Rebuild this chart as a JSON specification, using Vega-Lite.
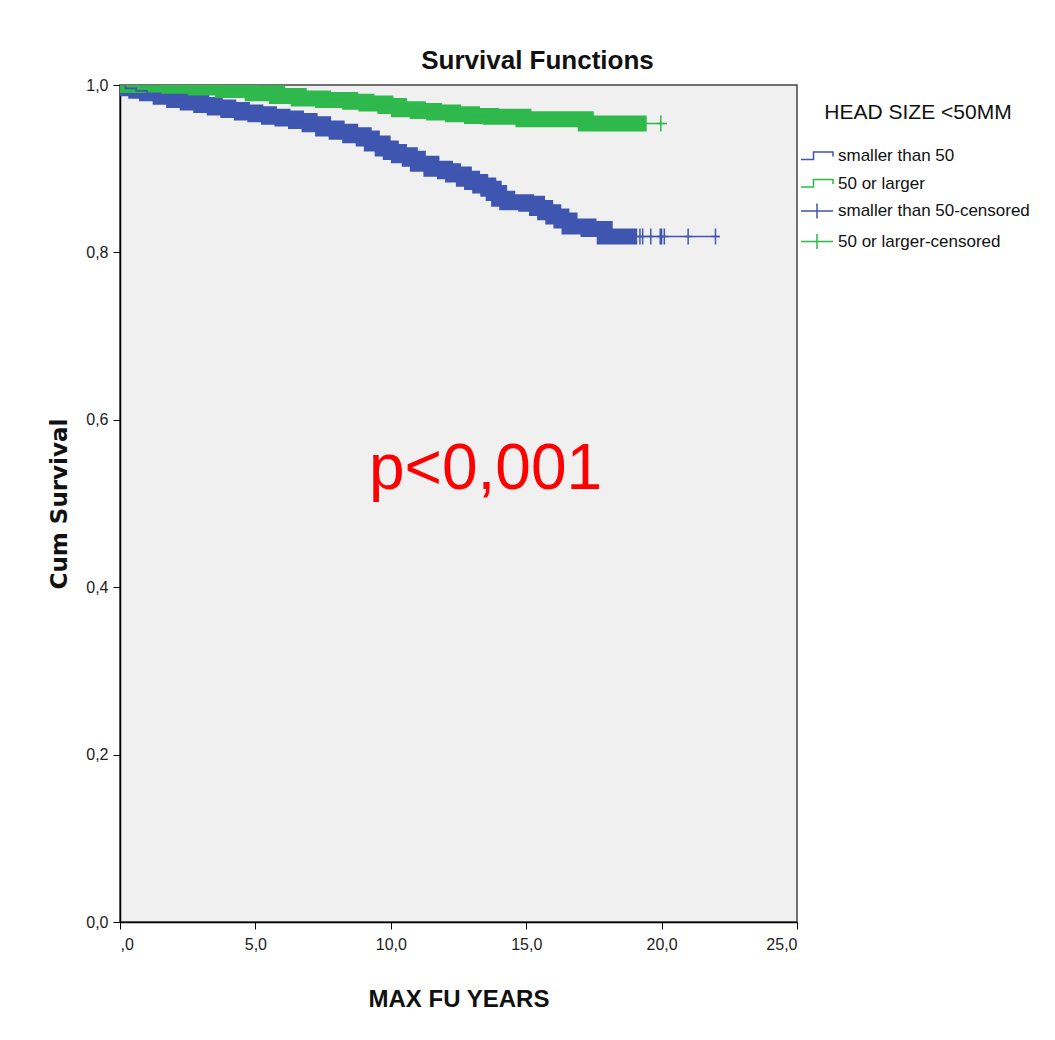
{
  "$schema": "https://vega.github.io/schema/vega-lite/v6.json",
  "width": 677,
  "height": 837,
  "autosize": "none",
  "padding": {"left": 120, "top": 85, "right": 258, "bottom": 118},
  "background": "white",
  "config": {
    "font": "Liberation Sans, sans-serif",
    "view": {"fill": "#F0F0F0", "stroke": "#444444", "strokeWidth": 1.5}
  },
  "title": {
    "text": "Survival Functions",
    "anchor": "middle",
    "dx": 79,
    "offset": 3,
    "fontSize": 26,
    "fontWeight": "bold",
    "font": "Liberation Sans, sans-serif",
    "color": "#111111"
  },
  "datasets": {
    "km": [
      {"series": "smaller than 50", "t": 0.0, "s": 1.0},
      {"series": "smaller than 50", "t": 0.2, "s": 0.996},
      {"series": "smaller than 50", "t": 0.6, "s": 0.993},
      {"series": "smaller than 50", "t": 1.0, "s": 0.99},
      {"series": "smaller than 50", "t": 1.5, "s": 0.986},
      {"series": "smaller than 50", "t": 2.0, "s": 0.982},
      {"series": "smaller than 50", "t": 2.5, "s": 0.979},
      {"series": "smaller than 50", "t": 3.0, "s": 0.976},
      {"series": "smaller than 50", "t": 3.5, "s": 0.973},
      {"series": "smaller than 50", "t": 4.0, "s": 0.97},
      {"series": "smaller than 50", "t": 4.5, "s": 0.967},
      {"series": "smaller than 50", "t": 5.0, "s": 0.965},
      {"series": "smaller than 50", "t": 5.5, "s": 0.962},
      {"series": "smaller than 50", "t": 6.0, "s": 0.96},
      {"series": "smaller than 50", "t": 6.5, "s": 0.957},
      {"series": "smaller than 50", "t": 7.0, "s": 0.953},
      {"series": "smaller than 50", "t": 7.5, "s": 0.948},
      {"series": "smaller than 50", "t": 8.0, "s": 0.944},
      {"series": "smaller than 50", "t": 8.5, "s": 0.94},
      {"series": "smaller than 50", "t": 9.0, "s": 0.936},
      {"series": "smaller than 50", "t": 9.3, "s": 0.93},
      {"series": "smaller than 50", "t": 9.7, "s": 0.924},
      {"series": "smaller than 50", "t": 10.0, "s": 0.92},
      {"series": "smaller than 50", "t": 10.3, "s": 0.916},
      {"series": "smaller than 50", "t": 10.7, "s": 0.912},
      {"series": "smaller than 50", "t": 11.0, "s": 0.906},
      {"series": "smaller than 50", "t": 11.5, "s": 0.9},
      {"series": "smaller than 50", "t": 12.0, "s": 0.897},
      {"series": "smaller than 50", "t": 12.3, "s": 0.893},
      {"series": "smaller than 50", "t": 12.7, "s": 0.888},
      {"series": "smaller than 50", "t": 13.0, "s": 0.884},
      {"series": "smaller than 50", "t": 13.3, "s": 0.88},
      {"series": "smaller than 50", "t": 13.6, "s": 0.876},
      {"series": "smaller than 50", "t": 13.8, "s": 0.871},
      {"series": "smaller than 50", "t": 14.0, "s": 0.864},
      {"series": "smaller than 50", "t": 14.3, "s": 0.86},
      {"series": "smaller than 50", "t": 15.0, "s": 0.858},
      {"series": "smaller than 50", "t": 15.4, "s": 0.853},
      {"series": "smaller than 50", "t": 15.7, "s": 0.848},
      {"series": "smaller than 50", "t": 16.0, "s": 0.843},
      {"series": "smaller than 50", "t": 16.3, "s": 0.838},
      {"series": "smaller than 50", "t": 16.6, "s": 0.831},
      {"series": "smaller than 50", "t": 17.3, "s": 0.828},
      {"series": "smaller than 50", "t": 17.9, "s": 0.819},
      {"series": "smaller than 50", "t": 19.1, "s": 0.819},
      {"series": "smaller than 50", "t": 22.15, "s": 0.819},
      {"series": "50 or larger", "t": 0.0, "s": 1.0},
      {"series": "50 or larger", "t": 1.5, "s": 0.999},
      {"series": "50 or larger", "t": 2.8, "s": 0.997},
      {"series": "50 or larger", "t": 3.8, "s": 0.994},
      {"series": "50 or larger", "t": 4.9, "s": 0.99},
      {"series": "50 or larger", "t": 5.8, "s": 0.987},
      {"series": "50 or larger", "t": 6.6, "s": 0.984},
      {"series": "50 or larger", "t": 7.5, "s": 0.982},
      {"series": "50 or larger", "t": 8.5, "s": 0.98},
      {"series": "50 or larger", "t": 9.1, "s": 0.978},
      {"series": "50 or larger", "t": 9.8, "s": 0.975},
      {"series": "50 or larger", "t": 10.3, "s": 0.971},
      {"series": "50 or larger", "t": 11.0, "s": 0.969},
      {"series": "50 or larger", "t": 11.6, "s": 0.967},
      {"series": "50 or larger", "t": 12.3, "s": 0.965},
      {"series": "50 or larger", "t": 13.0, "s": 0.963},
      {"series": "50 or larger", "t": 13.7, "s": 0.962},
      {"series": "50 or larger", "t": 14.9, "s": 0.959},
      {"series": "50 or larger", "t": 17.2, "s": 0.954},
      {"series": "50 or larger", "t": 19.45, "s": 0.954},
      {"series": "50 or larger", "t": 20.2, "s": 0.954}
    ],
    "censor": [
      {"series": "smaller than 50-censored", "t": 19.2, "s": 0.819},
      {"series": "smaller than 50-censored", "t": 19.3, "s": 0.819},
      {"series": "smaller than 50-censored", "t": 19.6, "s": 0.819},
      {"series": "smaller than 50-censored", "t": 19.95, "s": 0.819},
      {"series": "smaller than 50-censored", "t": 20.0, "s": 0.819},
      {"series": "smaller than 50-censored", "t": 20.1, "s": 0.819},
      {"series": "smaller than 50-censored", "t": 20.98, "s": 0.819},
      {"series": "smaller than 50-censored", "t": 21.99, "s": 0.819},
      {"series": "50 or larger-censored", "t": 19.97, "s": 0.954}
    ],
    "note": [{"t": 13.5, "s": 0.54, "label": "p<0,001"}]
  },
  "layer": [
    {
      "data": {"name": "km"},
      "transform": [{"filter": "datum.series == 'smaller than 50' && datum.t <= 19.1"}],
      "mark": {"type": "line", "interpolate": "step-after", "strokeWidth": 16, "strokeCap": "butt", "strokeJoin": "miter", "clip": true},
      "encoding": {
        "x": {"field": "t", "type": "quantitative"},
        "y": {"field": "s", "type": "quantitative"},
        "color": {"field": "series", "type": "nominal"}
      }
    },
    {
      "data": {"name": "km"},
      "transform": [{"filter": "datum.series == '50 or larger' && datum.t <= 19.45"}],
      "mark": {"type": "line", "interpolate": "step-after", "strokeWidth": 16, "strokeCap": "butt", "strokeJoin": "miter", "clip": true},
      "encoding": {
        "x": {"field": "t", "type": "quantitative"},
        "y": {"field": "s", "type": "quantitative"},
        "color": {"field": "series", "type": "nominal"}
      }
    },
    {
      "data": {"name": "km"},
      "mark": {"type": "line", "interpolate": "step-after", "strokeWidth": 1.6, "clip": true},
      "encoding": {
        "x": {
          "field": "t", "type": "quantitative",
          "scale": {"domain": [0, 25], "nice": false, "zero": false},
          "axis": {
            "values": [0, 5, 10, 15, 20, 25],
            "labelExpr": "datum.value == 0 ? ',0' : replace(format(datum.value, '.1f'), '.', ',')",
            "title": "MAX FU YEARS",
            "titleFontSize": 24,
            "titleFontWeight": "bold",
            "titleColor": "#111111",
            "titlePadding": 35,
            "labelFontSize": 16,
            "labelColor": "#222222",
            "labelPadding": 7,
            "tickSize": 7,
            "tickColor": "#000000",
            "domainColor": "#000000",
            "domainWidth": 1.5,
            "grid": false
          }
        },
        "y": {
          "field": "s", "type": "quantitative",
          "scale": {"domain": [0, 1], "nice": false, "zero": false},
          "axis": {
            "values": [0, 0.2, 0.4, 0.6, 0.8, 1.0],
            "labelExpr": "replace(format(datum.value, '.1f'), '.', ',')",
            "title": "Cum Survival",
            "titleFont": "DejaVu Sans, sans-serif",
            "titleFontSize": 23,
            "titleFontWeight": "bold",
            "titleColor": "#111111",
            "titlePadding": 14,
            "labelFontSize": 16,
            "labelColor": "#222222",
            "labelPadding": 5,
            "tickSize": 7,
            "tickColor": "#000000",
            "domainColor": "#000000",
            "domainWidth": 1.5,
            "grid": false
          }
        },
        "color": {
          "field": "series", "type": "nominal",
          "scale": {
            "domain": ["smaller than 50", "50 or larger", "smaller than 50-censored", "50 or larger-censored"],
            "range": ["#3E56AF", "#2FB84B", "#3E56AF", "#2FB84B"]
          },
          "legend": {
            "title": "HEAD SIZE <50MM",
            "orient": "none",
            "legendX": 686,
            "legendY": 17,
            "padding": 0,
            "titleFontSize": 21,
            "titleFontWeight": "normal",
            "titleColor": "#111111",
            "titleAnchor": "middle",
            "titlePadding": 22,
            "titleLimit": 300,
            "labelFontSize": 17,
            "labelLimit": 300,
            "labelColor": "#111111",
            "labelOffset": 10,
            "symbolSize": 400,
            "symbolStrokeWidth": 1.5,
            "symbolFillColor": "transparent",
            "rowPadding": 8.5,
            "symbolType": "M-1.6,0.35H-0.35V-0.4H1.6V0.05",
            "encode": {
              "symbols": {
                "update": {
                  "shape": {"signal": "indexof(datum.value, 'censored') >= 0 ? 'M-1.6,0H1.6M0,-0.75V0.75' : 'M-1.6,0.35H-0.35V-0.4H1.6V0.05'"},
                  "fill": {"value": "transparent"},
                  "strokeWidth": {"value": 1.5}
                }
              }
            }
          }
        }
      }
    },
    {
      "data": {"name": "censor"},
      "mark": {"type": "point", "shape": "M-0.5,0H0.5M0,-1V1", "size": 256, "filled": false, "strokeWidth": 1.5, "opacity": 1},
      "encoding": {
        "x": {"field": "t", "type": "quantitative"},
        "y": {"field": "s", "type": "quantitative"},
        "color": {"field": "series", "type": "nominal"}
      }
    },
    {
      "data": {"name": "note"},
      "mark": {"type": "text", "font": "Liberation Sans, sans-serif", "fontSize": 64, "color": "#FF0000", "align": "center", "baseline": "middle"},
      "encoding": {
        "x": {"field": "t", "type": "quantitative"},
        "y": {"field": "s", "type": "quantitative"},
        "text": {"field": "label"}
      }
    }
  ]
}
